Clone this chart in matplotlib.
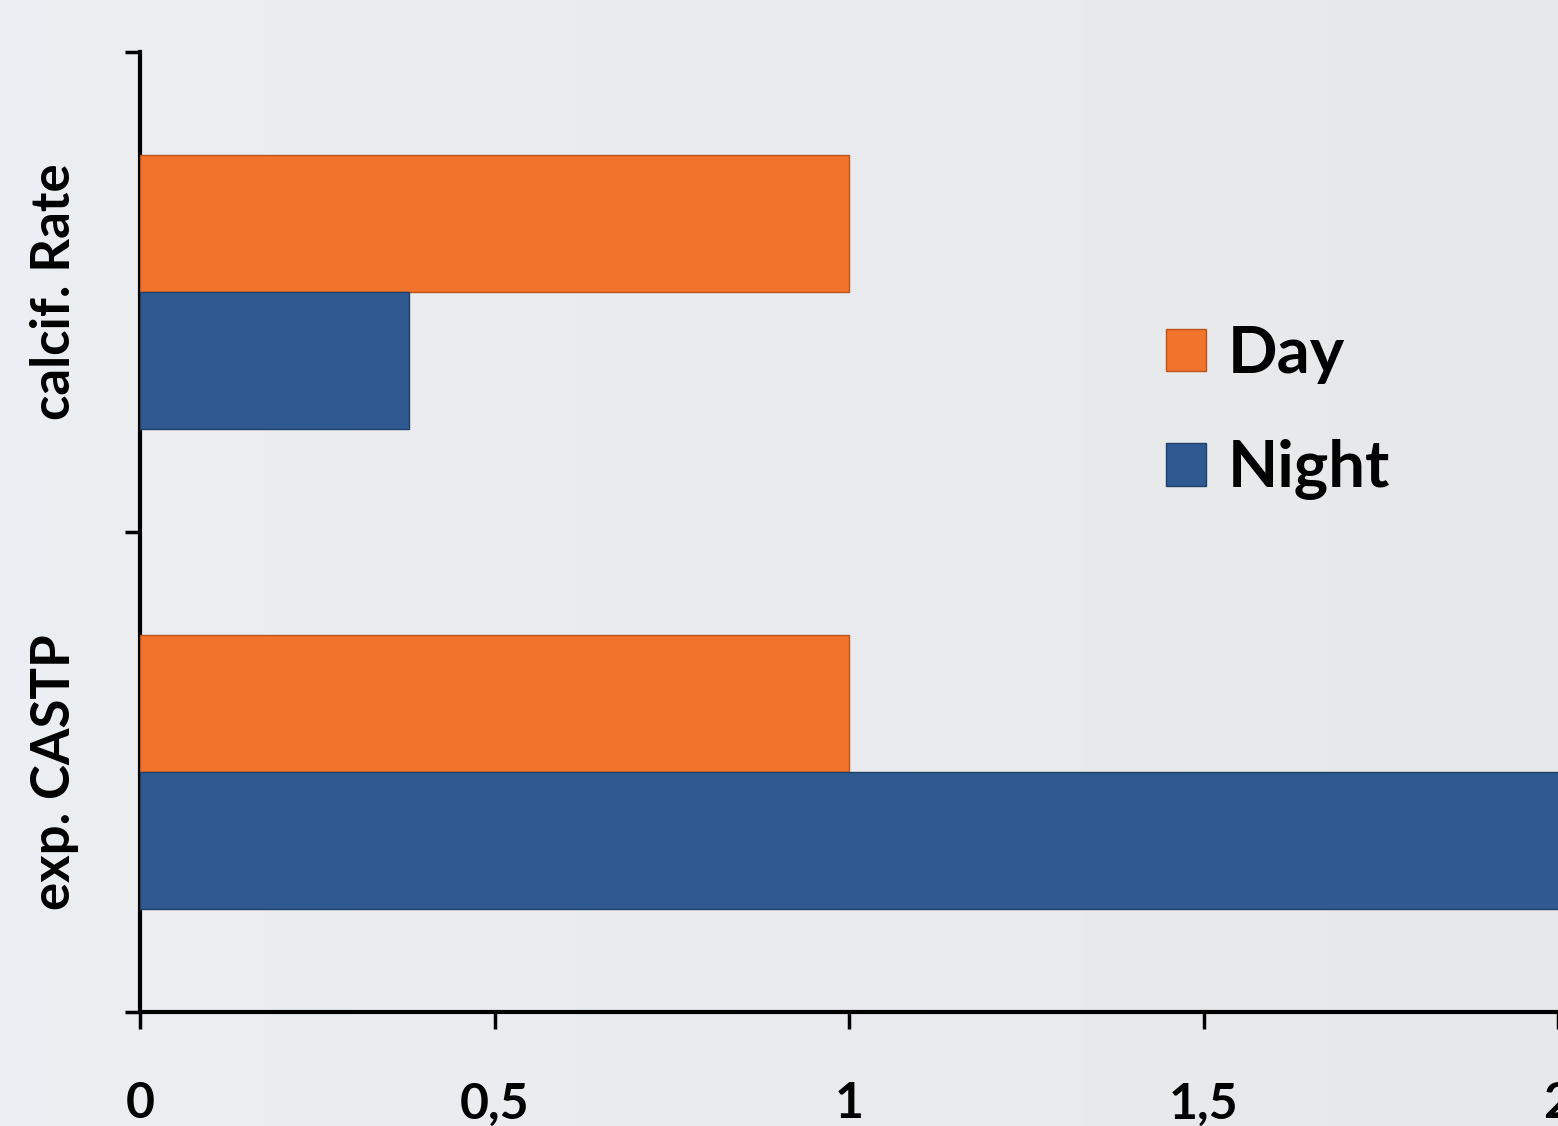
import matplotlib
matplotlib.use("Agg")
import matplotlib.pyplot as plt
import numpy as np
from matplotlib.patches import Patch

categories = ["exp. CASTP", "calcif. Rate"]
day_values = [1.0, 1.0]
night_values = [2.05, 0.38]
series_names = ["Day", "Night"]
xtick_values = [0, 0.5, 1, 1.5, 2]
xtick_labels = ["0", "0,5", "1", "1,5", "2"]

day_color = "#F2732B"
night_color = "#2E5A91"

plt.rcParams['font.family'] = ['Lato', 'DejaVu Sans']
plt.rcParams['font.weight'] = 'bold'

W, H = 1558, 1126
fig = plt.figure(figsize=(W / 100, H / 100), dpi=100)

# background gradient (light grey, slightly bluish on the left)
bg = fig.add_axes([0, 0, 1, 1], zorder=-10)
grad = np.linspace(0, 1, 256)
r = 0.905 + 0.02 * (1 - grad)
g = 0.910 + 0.025 * (1 - grad)
b = 0.915 + 0.035 * (1 - grad)
img = np.dstack([np.tile(r, (2, 1)), np.tile(g, (2, 1)), np.tile(b, (2, 1))])
img = np.clip(img, 0, 1)
bg.imshow(img, aspect='auto', extent=[0, 1, 0, 1])
bg.set_axis_off()

left = 140 / W
bottom = 1 - 1012 / H
top = 1 - 52 / H
ax = fig.add_axes([left, bottom, 1.0 - left, top - bottom])
ax.patch.set_alpha(0)

y = np.arange(len(categories))
h = 0.285
ax.barh(y + h / 2, day_values, height=h, color=day_color,
        edgecolor="#B9541C", linewidth=1.0, label=series_names[0], zorder=3)
ax.barh(y - h / 2, night_values, height=h, color=night_color,
        edgecolor="#1F3F68", linewidth=1.0, label=series_names[1], zorder=3)

ax.set_xlim(0, 2)
ax.set_ylim(-0.5, len(categories) - 0.5)

for s in ["top", "right"]:
    ax.spines[s].set_visible(False)
for s in ["left", "bottom"]:
    ax.spines[s].set_linewidth(3)
    ax.spines[s].set_color("black")

ax.set_xticks(xtick_values)
ax.set_xticklabels(xtick_labels, fontsize=36, fontweight='bold')
ax.tick_params(axis='x', direction='out', length=12, width=2.5, pad=38)

ax.set_yticks([-0.5, 0.5, 1.5])
ax.set_yticklabels([])
ax.tick_params(axis='y', which='major', direction='out', length=11, width=2.5)
ax.set_yticks(y, minor=True)
ax.set_yticklabels(categories, minor=True, rotation=90, va='center',
                   fontsize=38, fontweight='bold')
ax.tick_params(axis='y', which='minor', length=0, pad=44)

handles = [Patch(facecolor=day_color, edgecolor="#B9541C"),
           Patch(facecolor=night_color, edgecolor="#1F3F68")]
leg = fig.legend(handles, series_names, loc='upper left',
                 bbox_to_anchor=(1166 / W, 1 - 325 / H),
                 fontsize=47, frameon=False, handlelength=0.62,
                 handleheight=0.62, handletextpad=0.33, labelspacing=0.85,
                 borderpad=0, borderaxespad=0)
for t in leg.get_texts():
    t.set_fontweight('bold')

fig.savefig("out.png", dpi=100)
